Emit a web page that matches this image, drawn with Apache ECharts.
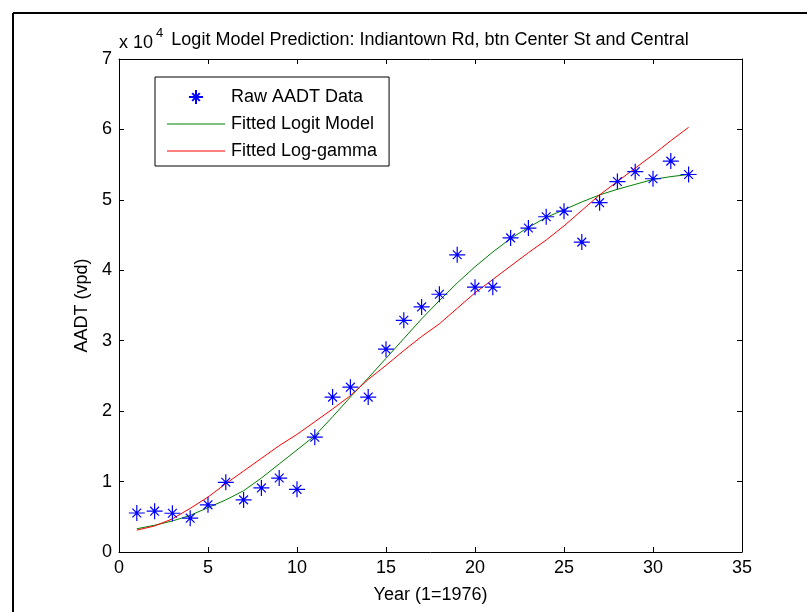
<!DOCTYPE html>
<html>
<head>
<meta charset="utf-8">
<script src="https://cdn.jsdelivr.net/npm/echarts@6/dist/echarts.min.js"></script>
<style>
    html, body { margin: 0; padding: 0; background: #fff; }
    #chart { width: 807px; height: 612px; }
</style>
</head>
<body>
<div id="chart"></div>
<script>
    // year index, 1 = 1976
    const years = [1, 2, 3, 4, 5, 6, 7, 8, 9, 10, 11, 12, 13, 14, 15, 16,
        17, 18, 19, 20, 21, 22, 23, 24, 25, 26, 27, 28, 29, 30, 31, 32];
    // AADT values (vpd)
    const rawAadt = [5540, 5800, 5500, 4800, 6700, 9900, 7400, 9100, 10500, 8900, 16300, 22000,
        23400, 22000, 28800, 32900, 34800, 36600, 42200, 37600, 37600, 44600, 46000, 47600,
        48400, 44000, 49600, 52600, 54000, 53000, 55500, 53600];
    const logitFit = [3300, 3800, 4400, 5200, 6300, 7400, 8700, 10500, 12500, 14500, 16500, 19200,
        22000, 24700, 27500, 30300, 33100, 35700, 38200, 40500, 42600, 44500, 46100, 47500,
        48600, 49700, 50700, 51500, 52200, 52900, 53300, 53600];
    const logGammaFit = [3100, 3700, 4700, 6200, 7800, 9700, 11500, 13300, 15100, 16700, 18500, 20300,
        22200, 24500, 26500, 28600, 30600, 32400, 34600, 36800, 38700, 40600, 42500, 44300,
        46300, 48500, 50700, 52600, 54500, 56400, 58400, 60300];
    const xTicks = [0, 5, 10, 15, 20, 25, 30, 35];
    const yTicks = [0, 10000, 20000, 30000, 40000, 50000, 60000, 70000];

    const font = 'Liberation Sans, Arial, sans-serif';
    const fs = 18;
    // matlab style asterisk: long + arms, shorter x arms
    const starPath = 'path://M0,-1L0,1M-1,0L1,0M-0.55,-0.55L0.55,0.55M-0.55,0.55L0.55,-0.55';
    const lineIcon = 'path://M0,0H58V1H0Z';

    const pairs = (ys) => years.map((x, i) => [x, ys[i]]);

    const baseAxis = {
        axisLine: { show: true, onZero: false, lineStyle: { color: '#000', width: 1 } },
        axisTick: { show: true, inside: true, length: 5, lineStyle: { color: '#000' } },
        splitLine: { show: false }
    };

    const chart = echarts.init(document.getElementById('chart'));
    chart.setOption({
        animation: false,
        backgroundColor: '#fff',
        grid: { left: 119, right: 65, top: 59, bottom: 60 },
        graphic: [
            { type: 'line', shape: { x1: 13, y1: 13, x2: 807, y2: 13 }, style: { stroke: '#000', lineWidth: 2 } },
            { type: 'line', shape: { x1: 13, y1: 13, x2: 13, y2: 612 }, style: { stroke: '#000', lineWidth: 2 } },
            {
                type: 'text', x: 430, y: 31,
                style: {
                    text: 'Logit Model Prediction: Indiantown Rd, btn Center St and Central',
                    font: fs + 'px ' + font, fill: '#000', textAlign: 'center'
                }
            },
            {
                type: 'text', x: 119, y: 34,
                style: { text: 'x 10', font: fs + 'px ' + font, fill: '#000' }
            },
            {
                type: 'text', x: 156, y: 27,
                style: { text: '4', font: '13px ' + font, fill: '#000' }
            }
        ],
        legend: {
            orient: 'vertical',
            left: 155,
            top: 77,
            padding: [11, 12, 6, 12],
            itemWidth: 58,
            itemHeight: 14,
            itemGap: 9,
            backgroundColor: '#fff',
            borderColor: '#000',
            borderWidth: 1,
            textStyle: { fontFamily: font, fontSize: fs, color: '#000', padding: [0, 0, 0, 1] },
            data: [
                { name: 'Raw AADT Data' },
                { name: 'Fitted Logit Model', icon: lineIcon },
                { name: 'Fitted Log-gamma', icon: lineIcon }
            ]
        },
        xAxis: [
            Object.assign({}, baseAxis, {
                type: 'value', min: 0, max: 35, interval: 5,
                name: 'Year (1=1976)', nameLocation: 'middle', nameGap: 34,
                nameTextStyle: { fontFamily: font, fontSize: fs, color: '#000' },
                axisLabel: { color: '#000', fontFamily: font, fontSize: fs, margin: 7 }
            }),
            Object.assign({}, baseAxis, {
                type: 'value', min: 0, max: 35, interval: 5, position: 'top',
                axisLabel: { show: false }
            })
        ],
        yAxis: [
            Object.assign({}, baseAxis, {
                type: 'value', min: 0, max: 70000, interval: 10000,
                name: 'AADT (vpd)', nameLocation: 'middle', nameGap: 28,
                nameTextStyle: { fontFamily: font, fontSize: fs, color: '#000' },
                axisLabel: {
                    color: '#000', fontFamily: font, fontSize: fs, margin: 7,
                    formatter: (v) => String(v / 10000)
                }
            }),
            Object.assign({}, baseAxis, {
                type: 'value', min: 0, max: 70000, interval: 10000, position: 'right',
                axisLabel: { show: false }
            })
        ],
        series: [
            {
                name: 'Raw AADT Data',
                type: 'scatter',
                symbol: starPath,
                symbolSize: 16,
                itemStyle: { color: '#0000ff', borderColor: '#0000ff', borderWidth: 1.2, opacity: 1 },
                data: pairs(rawAadt),
                z: 5
            },
            {
                name: 'Fitted Logit Model',
                type: 'line',
                symbol: 'none',
                lineStyle: { color: '#008000', width: 1 },
                itemStyle: { color: '#008000' },
                data: pairs(logitFit)
            },
            {
                name: 'Fitted Log-gamma',
                type: 'line',
                symbol: 'none',
                lineStyle: { color: '#ff0000', width: 1 },
                itemStyle: { color: '#ff0000' },
                data: pairs(logGammaFit)
            }
        ]
    });
</script>
</body>
</html>
